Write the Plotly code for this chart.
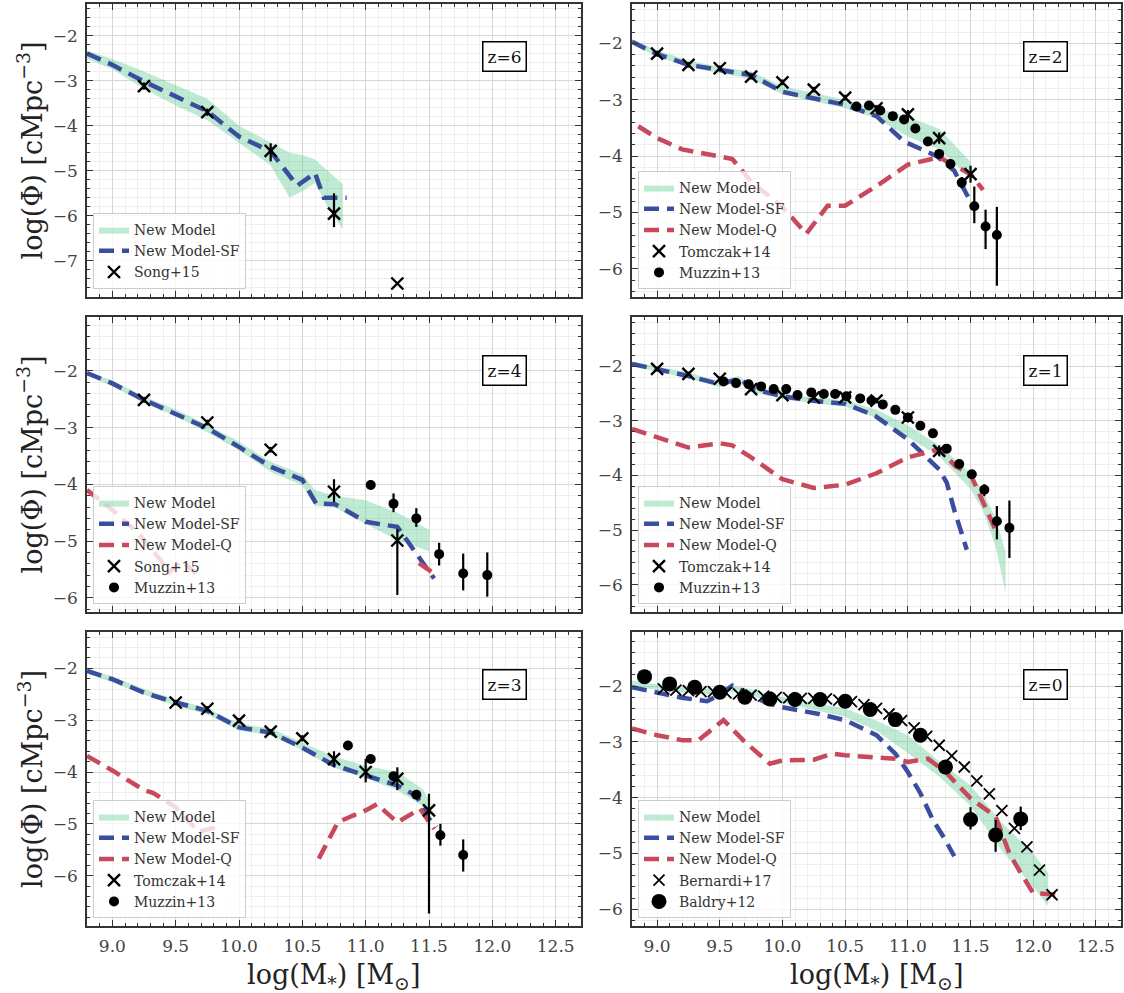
import plotly.graph_objects as go

# ---------------- DATA ----------------
# z = 6
z6_band_x = [8.8, 9.0, 9.25, 9.5, 9.75, 10.0, 10.25, 10.4, 10.5, 10.6, 10.7, 10.82]
z6_band_hi = [-2.33, -2.52, -2.8, -3.1, -3.4, -4.0, -4.38, -4.6, -4.65, -4.75, -5.0, -5.3]
z6_band_lo = [-2.52, -2.75, -3.18, -3.55, -3.88, -4.38, -4.88, -5.6, -5.45, -5.27, -5.8, -6.3]
z6_sf_x = [8.8, 9.0, 9.25, 9.5, 9.75, 10.0, 10.25, 10.46, 10.6, 10.67, 10.85]
z6_sf_y = [-2.4, -2.65, -3.02, -3.36, -3.68, -4.24, -4.57, -5.33, -5.05, -5.6, -5.6]
z6_song_x = [9.25, 9.75, 10.25, 10.75, 11.25]
z6_song_y = [-3.12, -3.7, -4.56, -5.95, -7.5]
z6_song_ep = [0.08, 0.08, 0.17, 0.45, 0.0]
z6_song_em = [0.08, 0.08, 0.23, 0.3, 0.0]

# z = 2
z2_band_x = [8.8, 9.0, 9.25, 9.5, 9.75, 10.0, 10.25, 10.5, 10.75, 11.0, 11.25, 11.5]
z2_band_hi = [-1.92, -2.12, -2.3, -2.42, -2.5, -2.76, -2.88, -3.0, -3.15, -3.3, -3.52, -4.1]
z2_band_lo = [-2.02, -2.23, -2.42, -2.53, -2.63, -2.9, -3.02, -3.15, -3.33, -3.65, -3.88, -4.4]
z2_sf_x = [8.8, 9.0, 9.25, 9.5, 9.75, 10.0, 10.25, 10.5, 10.75, 10.97, 11.23, 11.37, 11.51]
z2_sf_y = [-1.97, -2.19, -2.38, -2.47, -2.56, -2.86, -2.97, -3.09, -3.29, -3.74, -4.0, -4.26, -4.85]
z2_q_x = [8.85, 9.0, 9.2, 9.5, 9.6, 9.75, 10.0, 10.19, 10.36, 10.5, 10.75, 11.0, 11.25, 11.5, 11.6]
z2_q_y = [-3.47, -3.68, -3.88, -4.0, -4.05, -4.45, -4.9, -5.38, -4.88, -4.88, -4.53, -4.15, -4.02, -4.32, -4.6]
z2_tom_x = [9.0, 9.25, 9.5, 9.75, 10.0, 10.25, 10.5, 10.75, 11.0, 11.25, 11.5]
z2_tom_y = [-2.18, -2.38, -2.44, -2.59, -2.69, -2.82, -2.96, -3.15, -3.26, -3.68, -4.32]
z2_tom_e = [0.05, 0.05, 0.05, 0.05, 0.05, 0.05, 0.05, 0.06, 0.08, 0.1, 0.15]
z2_muz_x = [10.59, 10.69, 10.78, 10.88, 10.97, 11.06, 11.16, 11.25, 11.34, 11.43, 11.53, 11.62, 11.71]
z2_muz_y = [-3.12, -3.1, -3.19, -3.29, -3.35, -3.51, -3.74, -3.96, -4.14, -4.47, -4.89, -5.25, -5.4]
z2_muz_ep = [0.03, 0.03, 0.03, 0.03, 0.03, 0.04, 0.05, 0.06, 0.08, 0.1, 0.35, 0.3, 0.5]
z2_muz_em = [0.03, 0.03, 0.03, 0.03, 0.03, 0.04, 0.05, 0.06, 0.08, 0.1, 0.3, 0.4, 0.9]

# z = 4
z4_band_x = [8.8, 9.0, 9.25, 9.5, 9.75, 10.0, 10.25, 10.5, 10.6, 10.75, 11.0, 11.25, 11.5]
z4_band_hi = [-2.0, -2.17, -2.45, -2.68, -2.95, -3.25, -3.6, -3.82, -4.1, -4.2, -4.28, -4.5, -4.8]
z4_band_lo = [-2.08, -2.27, -2.56, -2.8, -3.08, -3.4, -3.78, -4.02, -4.38, -4.4, -4.7, -4.98, -5.18]
z4_sf_x = [8.8, 9.0, 9.25, 9.5, 9.75, 10.0, 10.25, 10.5, 10.61, 10.76, 11.0, 11.25, 11.42, 11.54]
z4_sf_y = [-2.04, -2.22, -2.51, -2.75, -3.01, -3.34, -3.69, -3.92, -4.34, -4.35, -4.66, -4.75, -5.28, -5.66]
z4_q_x = [8.8, 9.0, 9.2, 9.35, 9.45, 9.55, 9.7, 10.5, 11.42, 11.54]
z4_q_y = [-4.1, -4.45, -4.85, -5.25, -5.55, -5.35, -5.65, None, -5.39, -5.57]
z4_song_x = [9.25, 9.75, 10.25, 10.75, 11.25]
z4_song_y = [-2.51, -2.91, -3.39, -4.13, -4.99]
z4_song_ep = [0.05, 0.05, 0.05, 0.22, 0.2]
z4_song_em = [0.05, 0.05, 0.05, 0.18, 0.96]
z4_muz_x = [11.04, 11.22, 11.4, 11.58, 11.77, 11.96]
z4_muz_y = [-4.01, -4.34, -4.6, -5.23, -5.57, -5.6]
z4_muz_ep = [0.08, 0.18, 0.18, 0.2, 0.35, 0.4]
z4_muz_em = [0.08, 0.15, 0.15, 0.2, 0.3, 0.38]

# z = 1
z1_band_x = [8.8, 9.0, 9.25, 9.5, 9.65, 9.75, 10.0, 10.25, 10.5, 10.75, 11.0, 11.25, 11.5, 11.6, 11.7, 11.78]
z1_band_hi = [-1.92, -2.0, -2.12, -2.27, -2.18, -2.36, -2.5, -2.58, -2.62, -2.8, -3.08, -3.45, -3.95, -4.3, -4.78, -5.4]
z1_band_lo = [-2.0, -2.1, -2.22, -2.38, -2.3, -2.47, -2.6, -2.68, -2.74, -2.95, -3.3, -3.65, -4.25, -4.65, -5.3, -6.15]
z1_sf_x = [8.8, 9.0, 9.23, 9.5, 9.66, 9.77, 10.0, 10.23, 10.5, 10.74, 11.0, 11.25, 11.31, 11.37, 11.47]
z1_sf_y = [-1.96, -2.05, -2.17, -2.33, -2.23, -2.42, -2.55, -2.63, -2.69, -2.91, -3.34, -3.89, -4.13, -4.63, -5.36]
z1_q_x = [8.8, 9.0, 9.25, 9.5, 9.6, 9.75, 10.0, 10.25, 10.5, 10.75, 11.0, 11.25, 11.38, 11.5, 11.6, 11.7]
z1_q_y = [-3.15, -3.31, -3.49, -3.41, -3.45, -3.67, -4.07, -4.23, -4.17, -3.96, -3.67, -3.52, -3.83, -3.98, -4.5, -5.0]
z1_tom_x = [9.0, 9.25, 9.5, 9.75, 10.0, 10.25, 10.5, 10.75, 11.0, 11.25]
z1_tom_y = [-2.05, -2.14, -2.23, -2.42, -2.53, -2.57, -2.57, -2.63, -2.94, -3.55]
z1_tom_e = [0.04, 0.04, 0.04, 0.04, 0.04, 0.04, 0.04, 0.05, 0.08, 0.1]
z1_muz_x = [9.53, 9.63, 9.73, 9.83, 9.93, 10.03, 10.12, 10.23, 10.33, 10.42, 10.51, 10.62,
            10.71, 10.8, 10.9, 11.0, 11.1, 11.2, 11.31, 11.41, 11.51, 11.61, 11.71, 11.81]
z1_muz_y = [-2.28, -2.31, -2.33, -2.37, -2.42, -2.42, -2.53, -2.48, -2.51, -2.51, -2.55, -2.59,
            -2.63, -2.7, -2.8, -2.94, -3.09, -3.23, -3.51, -3.79, -3.98, -4.26, -4.84, -4.96]
z1_muz_ep = [0.02, 0.02, 0.02, 0.02, 0.02, 0.02, 0.02, 0.02, 0.02, 0.02, 0.02, 0.02,
             0.02, 0.02, 0.02, 0.03, 0.03, 0.03, 0.03, 0.04, 0.08, 0.1, 0.28, 0.5]
z1_muz_em = [0.02, 0.02, 0.02, 0.02, 0.02, 0.02, 0.02, 0.02, 0.02, 0.02, 0.02, 0.02,
             0.02, 0.02, 0.02, 0.03, 0.03, 0.03, 0.03, 0.04, 0.08, 0.12, 0.33, 0.55]

# z = 3
z3_band_x = [8.8, 9.0, 9.25, 9.5, 9.75, 10.0, 10.25, 10.5, 10.75, 11.0, 11.25, 11.45, 11.5]
z3_band_hi = [-2.0, -2.16, -2.4, -2.6, -2.77, -3.07, -3.16, -3.43, -3.7, -3.88, -4.0, -4.33, -4.55]
z3_band_lo = [-2.1, -2.27, -2.51, -2.72, -2.89, -3.2, -3.29, -3.58, -3.92, -4.12, -4.35, -4.65, -4.75]
z3_sf_x = [8.8, 9.0, 9.25, 9.5, 9.75, 10.0, 10.25, 10.5, 10.75, 11.0, 11.25, 11.4, 11.5, 11.56]
z3_sf_y = [-2.05, -2.21, -2.47, -2.66, -2.82, -3.14, -3.24, -3.53, -3.87, -4.07, -4.26, -4.46, -4.9, -5.06]
z3_q_x = [8.8, 9.0, 9.25, 9.32, 9.5, 9.68, 9.85, 10.2, 10.63, 10.78, 10.9, 11.0, 11.09, 11.25, 11.43, 11.54]
z3_q_y = [-3.69, -3.97, -4.35, -4.4, -4.68, -5.15, -5.05, None, -5.67, -4.97, -4.84, -4.74, -4.62, -4.97, -4.71, -5.1]
z3_tom_x = [9.5, 9.75, 10.0, 10.25, 10.5, 10.75, 11.0, 11.25, 11.5]
z3_tom_y = [-2.66, -2.78, -3.01, -3.22, -3.35, -3.75, -4.0, -4.13, -4.74]
z3_tom_ep = [0.05, 0.05, 0.05, 0.05, 0.06, 0.15, 0.25, 0.22, 0.32]
z3_tom_em = [0.05, 0.05, 0.05, 0.05, 0.06, 0.15, 0.2, 0.22, 1.99]
z3_muz_x = [10.86, 11.04, 11.22, 11.4, 11.59, 11.77]
z3_muz_y = [-3.49, -3.75, -4.08, -4.44, -5.22, -5.6]
z3_muz_ep = [0.03, 0.04, 0.05, 0.07, 0.22, 0.3]
z3_muz_em = [0.03, 0.04, 0.05, 0.07, 0.2, 0.32]

# z = 0
z0_band_x = [8.8, 9.0, 9.25, 9.5, 9.6, 9.75, 10.0, 10.25, 10.5, 10.75, 11.0, 11.25, 11.5, 11.75, 12.0, 12.12]
z0_band_hi = [-1.9, -1.97, -2.03, -2.05, -2.0, -2.05, -2.2, -2.3, -2.4, -2.62, -2.88, -3.35, -3.78, -4.45, -5.0, -5.35]
z0_band_lo = [-2.0, -2.07, -2.13, -2.15, -2.1, -2.17, -2.3, -2.42, -2.55, -2.8, -3.2, -3.62, -4.15, -4.95, -5.6, -5.95]
z0_sf_x = [8.8, 9.0, 9.2, 9.4, 9.5, 9.6, 9.7, 9.86, 10.0, 10.27, 10.5, 10.75, 10.9, 11.0, 11.1, 11.2, 11.3, 11.37]
z0_sf_y = [-2.02, -2.11, -2.21, -2.27, -2.15, -1.99, -2.1, -2.29, -2.38, -2.49, -2.61, -2.88, -3.21, -3.54, -3.92, -4.4, -4.76, -5.05]
z0_q_x = [8.8, 9.0, 9.2, 9.33, 9.53, 9.7, 9.9, 10.0, 10.25, 10.4, 10.5, 10.75, 10.9, 11.0, 11.16,
          11.3, 11.5, 11.7, 11.76, 11.81, 11.9, 12.0, 12.19]
z0_q_y = [-2.76, -2.88, -2.97, -2.97, -2.61, -3.0, -3.39, -3.33, -3.32, -3.21, -3.24, -3.27, -3.3, -3.36, -3.3,
          -3.54, -4.01, -4.34, -4.7, -5.0, -5.35, -5.71, -5.74]
z0_ber_x = [9.05, 9.15, 9.25, 9.35, 9.45, 9.55, 9.65, 9.75, 9.85, 9.95, 10.05, 10.15, 10.25, 10.35, 10.45, 10.55,
            10.65, 10.75, 10.85, 10.95, 11.05, 11.15, 11.25, 11.35, 11.45, 11.55, 11.65, 11.75, 11.85, 11.95, 12.05, 12.15]
z0_ber_y = [-2.05, -2.07, -2.08, -2.1, -2.1, -2.12, -2.14, -2.16, -2.18, -2.2, -2.21, -2.22, -2.22, -2.23, -2.25, -2.28,
            -2.33, -2.4, -2.5, -2.62, -2.75, -2.9, -3.06, -3.25, -3.45, -3.7, -3.93, -4.23, -4.55, -4.88, -5.3, -5.74]
z0_bal_x = [8.9, 9.1, 9.3, 9.5, 9.7, 9.9, 10.1, 10.3, 10.5, 10.7, 10.9, 11.1, 11.3, 11.5, 11.7, 11.9]
z0_bal_y = [-1.83, -1.96, -2.02, -2.11, -2.2, -2.23, -2.24, -2.24, -2.27, -2.42, -2.6, -2.88, -3.45, -4.39, -4.67, -4.38]
z0_bal_ep = [0.02, 0.02, 0.02, 0.02, 0.02, 0.02, 0.02, 0.02, 0.02, 0.02, 0.02, 0.03, 0.04, 0.22, 0.27, 0.22]
z0_bal_em = [0.02, 0.02, 0.02, 0.02, 0.02, 0.02, 0.02, 0.02, 0.02, 0.02, 0.02, 0.03, 0.04, 0.18, 0.3, 0.2]

x_ticks = [9.0, 9.5, 10.0, 10.5, 11.0, 11.5, 12.0, 12.5]
x_range = [8.8, 12.7]

# ---------------- STYLE / LAYOUT ----------------
W, H = 1124, 993
COLS = [(87, 581), (632, 1121)]
ROWS = [(4, 297), (317, 612), (632, 926)]
FONT = "DejaVu Serif"
BAND = "rgba(102,204,153,0.42)"
BLUE = "#3B4E9E"
RED = "#C8485C"
DASH = "15px,8px"

panels = [
    dict(row=0, col=0, z="z=6", yr=[-7.8, -1.3],
         band=(z6_band_x, z6_band_hi, z6_band_lo), sf=(z6_sf_x, z6_sf_y), q=None,
         obs=[("Song+15", "x", z6_song_x, z6_song_y, z6_song_ep, z6_song_em)]),
    dict(row=0, col=1, z="z=2", yr=[-6.5, -1.3],
         band=(z2_band_x, z2_band_hi, z2_band_lo), sf=(z2_sf_x, z2_sf_y), q=(z2_q_x, z2_q_y),
         obs=[("Tomczak+14", "x", z2_tom_x, z2_tom_y, z2_tom_e, z2_tom_e),
              ("Muzzin+13", "o", z2_muz_x, z2_muz_y, z2_muz_ep, z2_muz_em)]),
    dict(row=1, col=0, z="z=4", yr=[-6.25, -1.05],
         band=(z4_band_x, z4_band_hi, z4_band_lo), sf=(z4_sf_x, z4_sf_y), q=(z4_q_x, z4_q_y),
         obs=[("Song+15", "x", z4_song_x, z4_song_y, z4_song_ep, z4_song_em),
              ("Muzzin+13", "o", z4_muz_x, z4_muz_y, z4_muz_ep, z4_muz_em)]),
    dict(row=1, col=1, z="z=1", yr=[-6.5, -1.1],
         band=(z1_band_x, z1_band_hi, z1_band_lo), sf=(z1_sf_x, z1_sf_y), q=(z1_q_x, z1_q_y),
         obs=[("Tomczak+14", "x", z1_tom_x, z1_tom_y, z1_tom_e, z1_tom_e),
              ("Muzzin+13", "o", z1_muz_x, z1_muz_y, z1_muz_ep, z1_muz_em)]),
    dict(row=2, col=0, z="z=3", yr=[-6.97, -1.3],
         band=(z3_band_x, z3_band_hi, z3_band_lo), sf=(z3_sf_x, z3_sf_y), q=(z3_q_x, z3_q_y),
         obs=[("Tomczak+14", "x", z3_tom_x, z3_tom_y, z3_tom_ep, z3_tom_em),
              ("Muzzin+13", "o", z3_muz_x, z3_muz_y, z3_muz_ep, z3_muz_em)]),
    dict(row=2, col=1, z="z=0", yr=[-6.3, -1.03],
         band=(z0_band_x, z0_band_hi, z0_band_lo), sf=(z0_sf_x, z0_sf_y), q=(z0_q_x, z0_q_y),
         obs=[("Bernardi+17", "xs", z0_ber_x, z0_ber_y, None, None),
              ("Baldry+12", "O", z0_bal_x, z0_bal_y, z0_bal_ep, z0_bal_em)]),
]

fig = go.Figure()
layout = dict(width=W, height=H, margin=dict(l=0, r=0, t=0, b=0), autosize=False,
              paper_bgcolor="white", plot_bgcolor="white",
              font=dict(family=FONT, color="#333"), annotations=[])

for k, p in enumerate(panels, start=1):
    xa = "x" if k == 1 else f"x{k}"
    ya = "y" if k == 1 else f"y{k}"
    lg = "legend" if k == 1 else f"legend{k}"
    l, r = COLS[p["col"]]
    t, b = ROWS[p["row"]]
    bx, bhi, blo = p["band"]
    fig.add_trace(go.Scatter(x=bx + bx[::-1], y=bhi + blo[::-1], fill="toself", fillcolor=BAND,
                             mode="lines", line=dict(width=0, color=BAND), name="New Model",
                             xaxis=xa, yaxis=ya, legend=lg, hoverinfo="skip"))
    fig.add_trace(go.Scatter(x=p["sf"][0], y=p["sf"][1], mode="lines", name="New Model-SF",
                             line=dict(color=BLUE, width=4.5, dash=DASH),
                             xaxis=xa, yaxis=ya, legend=lg))
    if p["q"] is not None:
        fig.add_trace(go.Scatter(x=p["q"][0], y=p["q"][1], mode="lines", name="New Model-Q",
                                 line=dict(color=RED, width=4.5, dash=DASH), connectgaps=False,
                                 xaxis=xa, yaxis=ya, legend=lg))
    for name, kind, ox, oy, ep, em in p["obs"]:
        if kind == "x":
            mk = dict(symbol="x-thin", size=12, color="black", line=dict(width=2.4, color="black"))
        elif kind == "xs":
            mk = dict(symbol="x-thin", size=11, color="black", line=dict(width=1.8, color="black"))
        elif kind == "o":
            mk = dict(symbol="circle", size=10, color="black")
        else:
            mk = dict(symbol="circle", size=15, color="black")
        err = None
        if ep is not None:
            err = dict(type="data", symmetric=False, array=ep, arrayminus=em,
                       thickness=2.2, width=0, color="black")
        fig.add_trace(go.Scatter(x=ox, y=oy, mode="markers", name=name, marker=mk, error_y=err,
                                 xaxis=xa, yaxis=ya, legend=lg))

    bottom = p["row"] == 2
    common = dict(showline=True, linecolor="#333", linewidth=1.6, mirror="allticks",
                  ticks="inside", ticklen=6, tickwidth=1.2, tickcolor="#333",
                  showgrid=True, gridcolor="#d6d6d6", gridwidth=1, zeroline=False,
                  tickfont=dict(family=FONT, size=17, color="#444"))
    layout["xaxis" if k == 1 else f"xaxis{k}"] = dict(
        common, domain=[l / W, r / W], range=x_range, anchor=ya,
        tickmode="array", tickvals=x_ticks, ticktext=[f"{v:.1f}" for v in x_ticks],
        showticklabels=bottom, ticklabelstandoff=4,
        minor=dict(dtick=0.1, tick0=9.0, ticks="inside", ticklen=3, tickcolor="#333",
                   showgrid=True, gridcolor="#eeeeee", gridwidth=1))
    layout["yaxis" if k == 1 else f"yaxis{k}"] = dict(
        common, domain=[1 - b / H, 1 - t / H], range=p["yr"], anchor=xa,
        dtick=1, tick0=0, ticklabelstandoff=4,
        minor=dict(dtick=0.2, tick0=0, ticks="inside", ticklen=3, tickcolor="#333",
                   showgrid=True, gridcolor="#eeeeee", gridwidth=1))
    layout[lg] = dict(x=(l + 6) / W, y=1 - (b - 8) / H, xanchor="left", yanchor="bottom",
                      xref="paper", yref="paper", bgcolor="rgba(255,255,255,0.8)",
                      bordercolor="#cccccc", borderwidth=1, tracegroupgap=0,
                      font=dict(family=FONT, size=14, color="#333"))
    layout["annotations"].append(dict(
        text=p["z"], x=0.845, y=0.82, xref=f"{xa} domain", yref=f"{ya} domain",
        xanchor="center", yanchor="middle", showarrow=False,
        font=dict(family=FONT, size=17, color="#111"),
        bordercolor="black", borderwidth=1.5, borderpad=4, bgcolor="white"))

# axis titles
for (t, b) in ROWS:
    layout["annotations"].append(dict(
        text="log(Φ) [cMpc<sup>−3</sup>]", x=30 / W, y=1 - (t + b) / 2 / H, xref="paper", yref="paper",
        xanchor="center", yanchor="middle", textangle=-90, showarrow=False,
        font=dict(family=FONT, size=27, color="#222")))
for (l, r) in COLS:
    layout["annotations"].append(dict(
        text="log(M<sub>*</sub>) [M<sub>⊙</sub>]", x=(l + r) / 2 / W, y=1 - 957 / H,
        xref="paper", yref="paper", xanchor="center", yanchor="top", showarrow=False,
        font=dict(family=FONT, size=27, color="#222")))

fig.update_layout(**layout)
fig.write_html("out.html")
